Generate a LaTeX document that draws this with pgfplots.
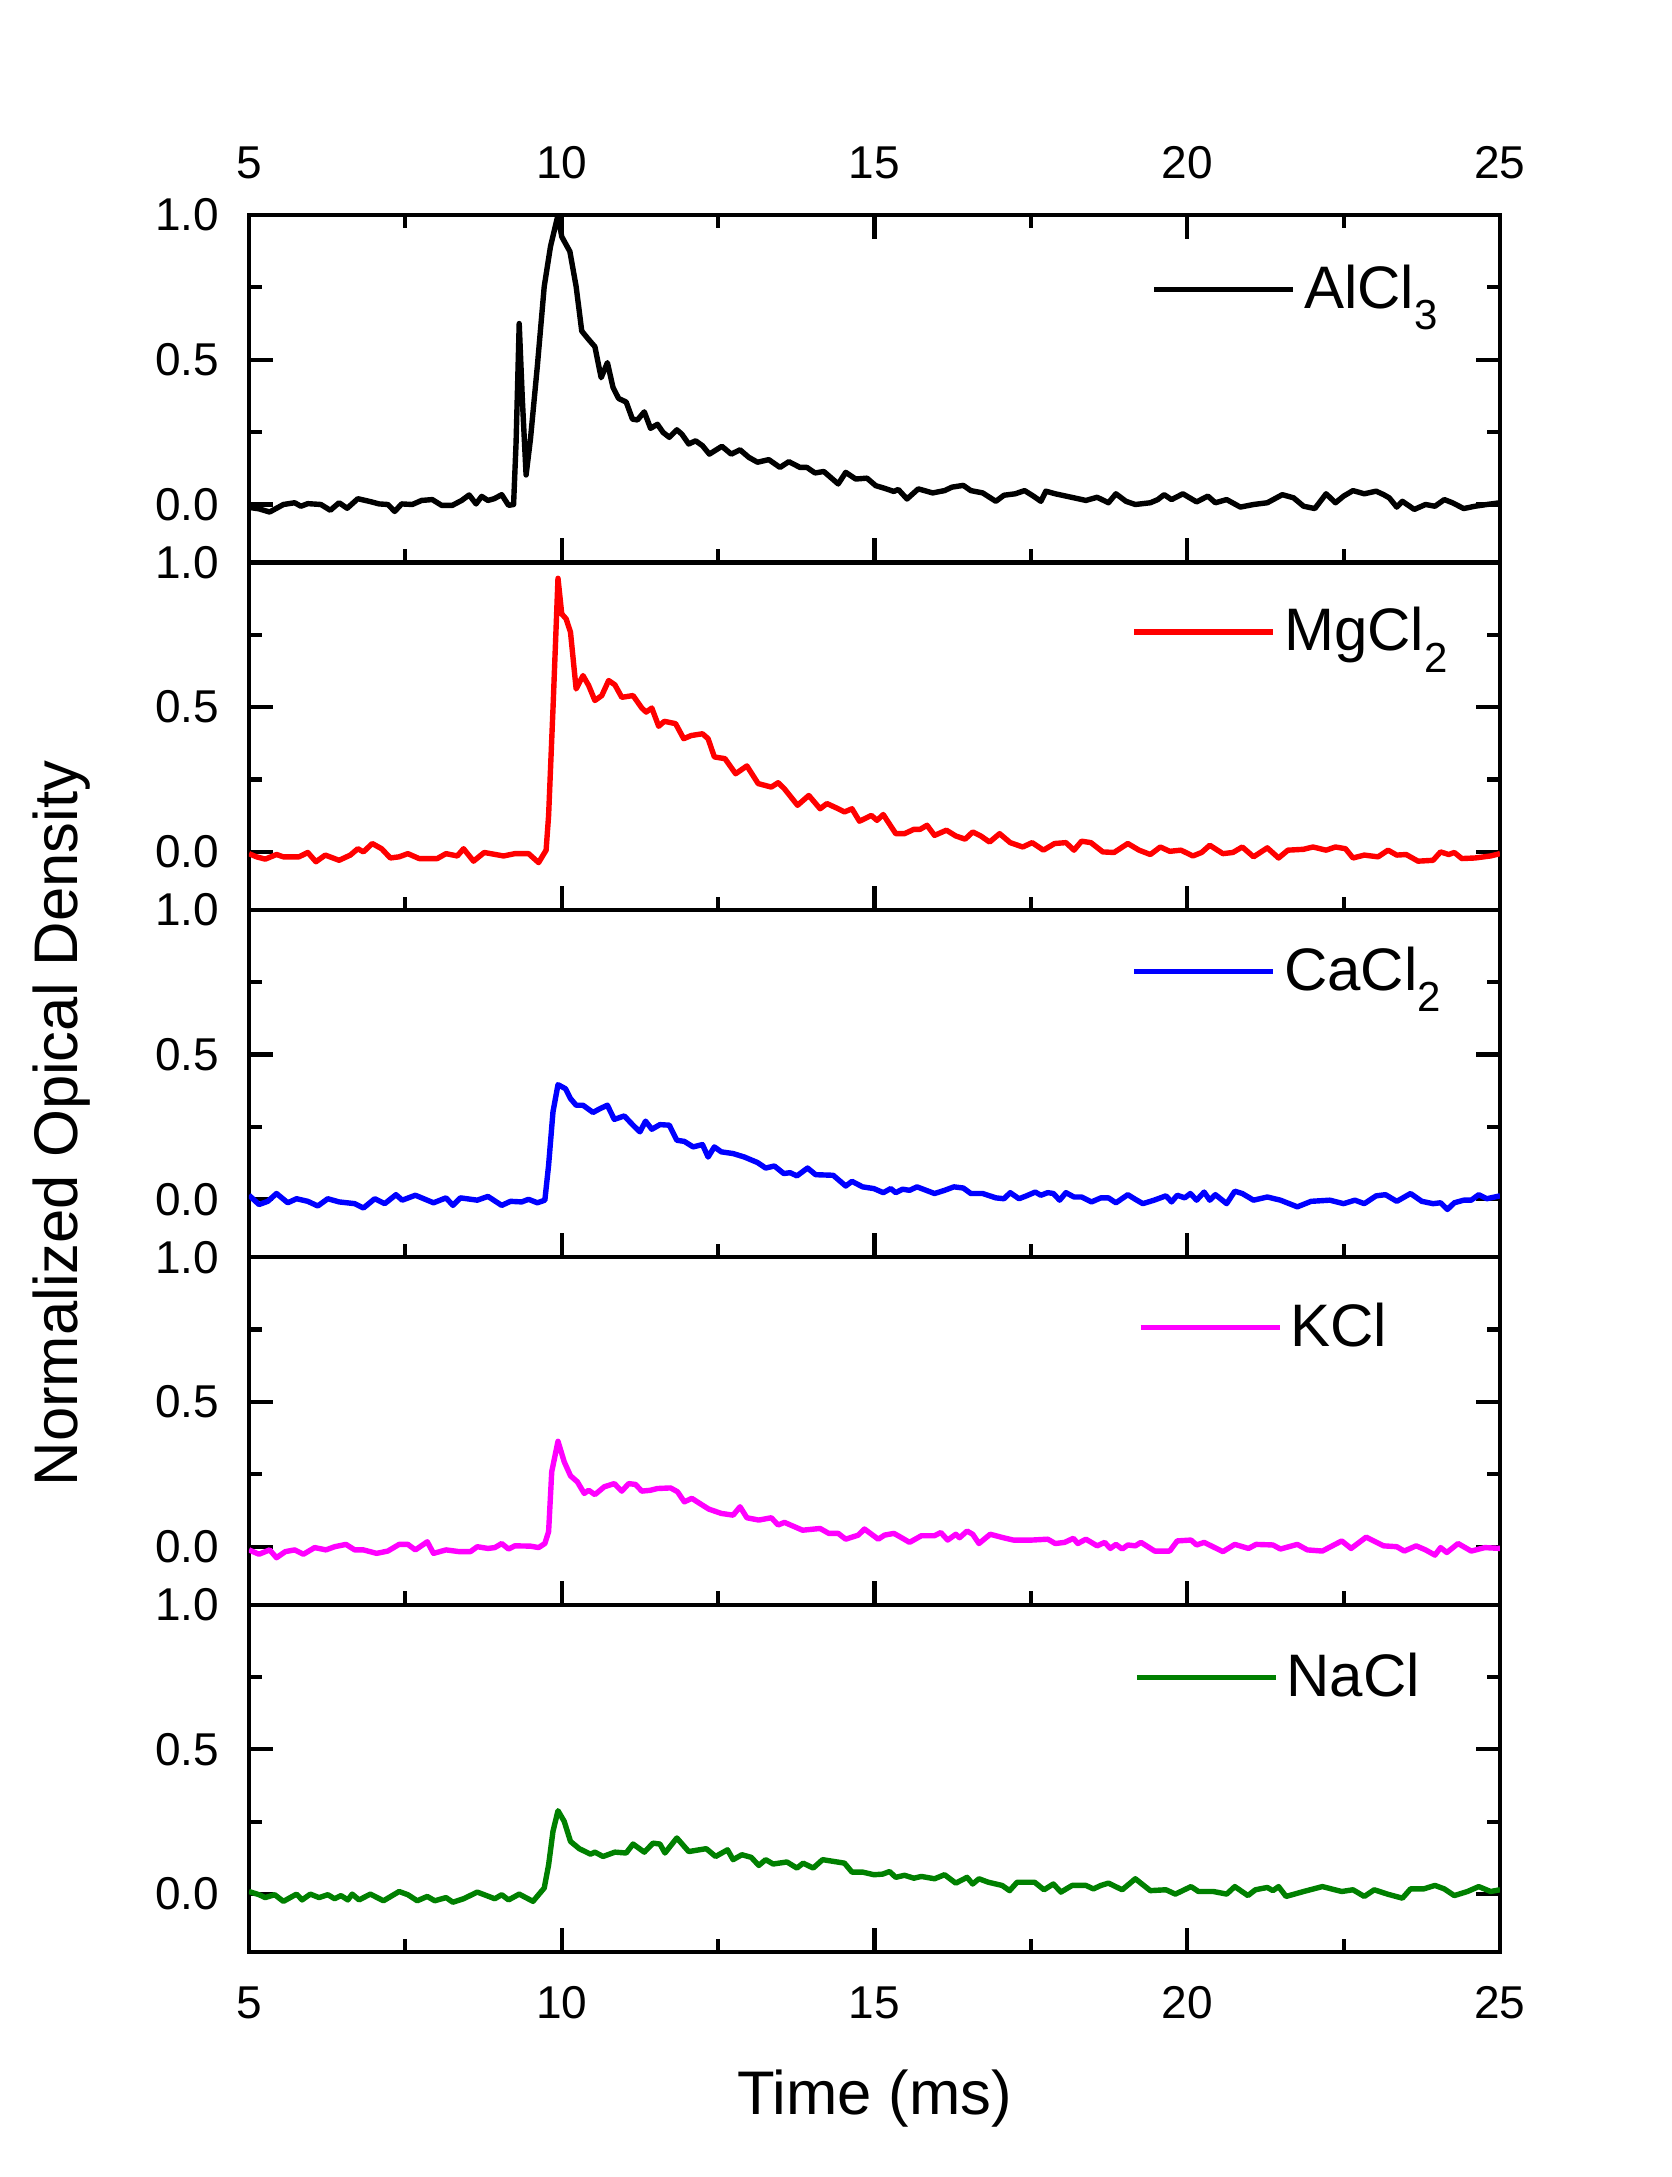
\documentclass[border=0pt]{standalone}
\usepackage{fontspec}
\setmainfont{Liberation Sans}
\usepackage{pgfplots}
\pgfplotsset{compat=1.18}
\usepgfplotslibrary{groupplots}

\definecolor{ngreen}{RGB}{0,128,0}
\definecolor{nred}{RGB}{255,0,0}
\definecolor{nblue}{RGB}{0,0,255}
\definecolor{nmagenta}{RGB}{255,0,255}
\newcommand{\sub}[1]{\raisebox{-5.4pt}{\fontsize{10.5}{12}\selectfont #1}}

\begin{document}
\begin{tikzpicture}
\begin{groupplot}[
  group style={group size=1 by 5, vertical sep=0pt},
  scale only axis, width=312.75pt, height=86.85pt,
  xmin=5, xmax=25, ymin=-0.2, ymax=1.0,
  xtick={5,10,15,20,25}, minor x tick num=1,
  ytick={0,0.5,1}, yticklabels={0.0,0.5,1.0}, minor ytick={0.25,0.75},
  tick align=inside, ytick pos=both, yticklabel pos=left,
  major tick length=6pt, minor tick length=3.3pt,
  axis line style={line width=1.05pt},
  every tick/.style={black, line width=1.05pt},
  yticklabel style={font=\fontsize{11.5}{13}\selectfont, anchor=east, inner sep=0pt, xshift=-7.25pt},
  xticklabel style={font=\fontsize{11.5}{13}\selectfont, inner sep=0pt},
  legend style={draw=none, fill=none, anchor=west, inner sep=0pt,
    font=\fontsize{15}{18}\selectfont},
  legend image code/.code={\draw[#1] (0pt,0pt) -- (34.75pt,0pt);},
  every axis plot/.append style={line width=1.35pt, line join=round},
]

% AlCl3
\nextgroupplot[xtick pos=both, xticklabel pos=top, xticklabels={5,10,15,20,25},
  xticklabel style={anchor=base, yshift=9.1pt},
  legend style={at={(rel axis cs:0.721,0.786)}}]
\addplot[black] coordinates {
(5.0,-0.01)(5.16,-0.015)(5.33,-0.026)(5.55,0)(5.73,0.006)(5.83,-0.006)(5.94,0.003)(6.15,0)(6.3,-0.02)(6.44,0.006)(6.57,-0.013)(6.74,0.02)(6.94,0.01)(7.08,0.002)(7.22,0)(7.33,-0.024)(7.44,0.002)(7.61,0)(7.76,0.014)(7.93,0.017)(8.08,-0.003)(8.25,-0.003)(8.4,0.014)(8.52,0.033)(8.63,0.002)(8.72,0.028)(8.82,0.014)(8.92,0.02)(9.04,0.034)(9.15,-0.003)(9.23,0)(9.27,0.214)(9.32,0.625)(9.37,0.364)(9.43,0.102)(9.5,0.226)(9.61,0.478)(9.72,0.753)(9.82,0.891)(9.94,1.0)(10.0,0.925)(10.13,0.874)(10.23,0.753)(10.32,0.599)(10.43,0.570)(10.53,0.545)(10.63,0.438)(10.73,0.49)(10.82,0.404)(10.91,0.366)(11.03,0.354)(11.13,0.295)(11.21,0.292)(11.32,0.32)(11.42,0.263)(11.53,0.277)(11.62,0.249)(11.72,0.232)(11.84,0.258)(11.92,0.243)(12.03,0.209)(12.14,0.220)(12.25,0.203)(12.36,0.174)(12.56,0.201)(12.71,0.174)(12.85,0.189)(12.99,0.163)(13.13,0.146)(13.31,0.155)(13.49,0.128)(13.63,0.148)(13.81,0.128)(13.92,0.128)(14.05,0.109)(14.19,0.114)(14.42,0.071)(14.54,0.111)(14.70,0.088)(14.88,0.091)(15.02,0.065)(15.16,0.056)(15.31,0.045)(15.38,0.052)(15.52,0.019)(15.70,0.054)
(15.93,0.04)(16.12,0.048)(16.24,0.06)(16.42,0.066)(16.54,0.048)(16.73,0.04)(16.94,0.011)(17.07,0.032)(17.25,0.037)(17.4,0.048)(17.54,0.029)(17.66,0.011)(17.74,0.046)(17.89,0.037)(18.19,0.023)(18.38,0.014)(18.56,0.025)(18.74,0.006)(18.86,0.037)(19.02,0.011)(19.17,0)(19.41,0.006)(19.53,0.017)(19.63,0.034)(19.75,0.017)(19.93,0.037)(20.15,0.009)(20.33,0.029)(20.45,0.006)(20.63,0.017)(20.85,-0.009)(21.06,0)(21.28,0.006)(21.52,0.034)(21.7,0.023)(21.86,-0.006)(22.04,-0.014)(22.22,0.037)(22.37,0.006)(22.5,0.029)(22.65,0.048)(22.83,0.037)(23.02,0.046)(23.14,0.034)(23.23,0.023)(23.35,-0.009)(23.44,0.011)(23.63,-0.017)(23.81,0)(23.96,-0.006)(24.11,0.017)(24.24,0.006)(24.42,-0.014)(24.6,-0.006)(24.79,0)(25.0,0.006)
};
\addlegendentry{AlCl\sub{3}}

% MgCl2
\nextgroupplot[xtick pos=bottom, xticklabels={},
  legend style={at={(rel axis cs:0.705,0.80)}}]
\addplot[nred] coordinates {
(5.0,-0.006)(5.12,-0.017)(5.26,-0.025)(5.44,-0.009)(5.55,-0.017)(5.8,-0.017)(5.94,-0.002)(6.07,-0.034)(6.22,-0.011)(6.44,-0.029)(6.62,-0.011)(6.74,0.011)(6.83,0)(6.97,0.029)(7.12,0.011)(7.26,-0.021)(7.4,-0.017)(7.54,-0.006)(7.72,-0.023)(8.01,-0.023)(8.15,-0.006)(8.33,-0.014)(8.43,0.011)(8.59,-0.032)(8.76,-0.002)(9.07,-0.014)(9.25,-0.006)(9.47,-0.006)(9.63,-0.037)(9.75,0.006)(9.79,0.126)(9.86,0.494)(9.94,0.945)(10.0,0.822)(10.07,0.805)(10.14,0.759)(10.23,0.563)(10.34,0.609)(10.43,0.575)(10.53,0.523)(10.64,0.54)(10.75,0.592)(10.85,0.577)(10.96,0.534)(11.14,0.54)(11.28,0.497)(11.35,0.483)(11.44,0.497)(11.55,0.434)(11.64,0.451)(11.82,0.443)(11.95,0.391)(12.07,0.402)(12.25,0.408)(12.34,0.391)(12.44,0.328)(12.61,0.322)(12.78,0.270)(12.96,0.297)(13.14,0.236)(13.35,0.224)(13.46,0.239)(13.56,0.218)(13.77,0.161)(13.95,0.195)(14.13,0.149)(14.24,0.167)(14.42,0.149)(14.52,0.138)(14.64,0.149)(14.76,0.106)(14.95,0.126)(15.04,0.109)(15.14,0.129)(15.34,0.063)(15.48,0.063)(15.63,0.078)(15.73,0.078)
(15.84,0.092)(15.96,0.057)(16.15,0.075)(16.3,0.055)(16.45,0.044)(16.57,0.069)(16.7,0.055)(16.84,0.034)(17.0,0.063)(17.17,0.032)(17.37,0.017)(17.52,0.032)(17.7,0.006)(17.88,0.029)(18.06,0.032)(18.19,0.006)(18.31,0.037)(18.46,0.032)(18.65,0)(18.83,-0.002)(19.05,0.029)(19.23,0.006)(19.41,-0.009)(19.57,0.017)(19.72,0.002)(19.9,0.006)(20.09,-0.014)(20.23,-0.002)(20.36,0.023)(20.57,-0.006)(20.73,-0.002)(20.88,0.017)(21.06,-0.017)(21.28,0.014)(21.46,-0.021)(21.61,0.006)(21.86,0.009)(22.01,0.017)(22.22,0.006)(22.37,0.017)(22.53,0.011)(22.65,-0.021)(22.83,-0.011)(23.05,-0.017)(23.21,0.006)(23.35,-0.011)(23.5,-0.009)(23.69,-0.032)(23.93,-0.029)(24.05,0)(24.18,-0.009)(24.27,-0.002)(24.39,-0.023)(24.6,-0.021)(24.85,-0.014)(25.0,-0.006)
};
\addlegendentry{MgCl\sub{2}}

% CaCl2
\nextgroupplot[xtick pos=bottom, xticklabels={},
  legend style={at={(rel axis cs:0.705,0.822)}}]
\addplot[nblue] coordinates {
(5.0,0.014)(5.16,-0.018)(5.3,-0.007)(5.44,0.02)(5.62,-0.012)(5.76,0.002)(5.94,-0.007)(6.1,-0.023)(6.26,0.002)(6.44,-0.009)(6.69,-0.015)(6.83,-0.03)(7.01,0.002)(7.17,-0.015)(7.35,0.016)(7.45,-0.003)(7.66,0.014)(7.95,-0.012)(8.15,0.005)(8.26,-0.021)(8.38,0.005)(8.65,-0.003)(8.82,0.01)(9.04,-0.021)(9.18,-0.007)(9.36,-0.009)(9.47,0)(9.61,-0.012)(9.73,-0.003)(9.79,0.118)(9.86,0.302)(9.94,0.396)(10.06,0.382)(10.14,0.348)(10.23,0.325)(10.34,0.325)(10.5,0.3)(10.61,0.313)(10.73,0.325)(10.84,0.276)(11.0,0.288)(11.14,0.256)(11.25,0.233)(11.34,0.27)(11.44,0.242)(11.57,0.258)(11.72,0.256)(11.84,0.204)(11.96,0.200)(12.1,0.181)(12.25,0.189)(12.34,0.146)(12.44,0.181)(12.55,0.164)(12.74,0.158)(12.92,0.146)(13.13,0.127)(13.26,0.108)(13.4,0.115)(13.55,0.089)(13.65,0.092)(13.76,0.081)(13.93,0.108)(14.06,0.085)(14.34,0.083)(14.54,0.046)(14.64,0.062)(14.81,0.043)(14.99,0.037)(15.14,0.023)(15.26,0.037)(15.34,0.023)(15.45,0.035)(15.56,0.031)(15.68,0.043)
(15.96,0.020)(16.12,0.031)(16.27,0.043)(16.42,0.039)(16.54,0.020)(16.73,0.020)(16.94,0.005)(17.07,0.002)(17.17,0.023)(17.31,0.002)(17.43,0.012)(17.57,0.025)(17.66,0.014)(17.77,0.023)(17.86,0.020)(17.96,-0.003)(18.06,0.023)(18.19,0.008)(18.31,0.008)(18.47,-0.009)(18.62,0.005)(18.74,0.005)(18.86,-0.012)(19.05,0.016)(19.17,0)(19.29,-0.015)(19.47,-0.003)(19.66,0.012)(19.75,-0.009)(19.84,0.014)(19.96,0.005)(20.05,0.020)(20.15,-0.003)(20.27,0.025)(20.36,-0.003)(20.45,0.016)(20.63,-0.015)(20.76,0.028)(20.88,0.020)(21.06,-0.003)(21.28,0.008)(21.49,-0.003)(21.76,-0.026)(21.98,-0.007)(22.28,-0.003)(22.5,-0.015)(22.68,-0.003)(22.83,-0.015)(23.02,0.012)(23.17,0.016)(23.35,-0.007)(23.57,0.020)(23.75,-0.007)(23.93,-0.015)(24.05,-0.012)(24.16,-0.035)(24.27,-0.012)(24.42,-0.003)(24.54,-0.003)(24.66,0.016)(24.79,0.002)(25.0,0.012)
};
\addlegendentry{CaCl\sub{2}}

% KCl
\nextgroupplot[xtick pos=bottom, xticklabels={},
  legend style={at={(rel axis cs:0.710,0.797)}}]
\addplot[nmagenta] coordinates {
(5.0,-0.011)(5.16,-0.026)(5.33,-0.011)(5.44,-0.038)(5.58,-0.017)(5.73,-0.011)(5.87,-0.026)(6.05,-0.003)(6.23,-0.011)(6.37,0)(6.55,0.008)(6.69,-0.011)(6.83,-0.011)(7.04,-0.023)(7.22,-0.015)(7.4,0.008)(7.54,0.008)(7.66,-0.011)(7.85,0.017)(7.95,-0.023)(8.15,-0.011)(8.36,-0.017)(8.54,-0.017)(8.65,0)(8.82,-0.006)(8.93,-0.003)(9.04,0.011)(9.15,-0.008)(9.25,0.003)(9.5,0.002)(9.63,-0.003)(9.73,0.011)(9.79,0.052)(9.84,0.259)(9.94,0.364)(10.04,0.293)(10.14,0.245)(10.25,0.224)(10.36,0.184)(10.43,0.195)(10.53,0.180)(10.68,0.207)(10.84,0.218)(10.96,0.192)(11.07,0.218)(11.18,0.215)(11.28,0.192)(11.42,0.195)(11.53,0.201)(11.74,0.203)(11.85,0.190)(11.96,0.155)(12.08,0.167)(12.21,0.149)(12.35,0.130)(12.55,0.115)(12.74,0.109)(12.85,0.138)(12.96,0.100)(13.15,0.092)(13.35,0.100)(13.46,0.075)(13.56,0.084)(13.85,0.057)(14.13,0.063)(14.27,0.046)(14.42,0.046)(14.54,0.026)(14.74,0.040)(14.84,0.061)(15.06,0.026)(15.16,0.040)(15.31,0.046)(15.41,0.034)(15.56,0.015)
(15.75,0.038)(15.96,0.038)(16.06,0.049)(16.17,0.023)(16.3,0.043)(16.36,0.031)(16.48,0.054)(16.57,0.043)(16.67,0.011)(16.85,0.043)(17.06,0.031)(17.22,0.023)(17.52,0.023)(17.77,0.026)(17.89,0.011)(18.04,0.015)(18.18,0.029)(18.25,0.011)(18.38,0.026)(18.56,0.003)(18.68,0.015)(18.77,-0.006)(18.86,0.008)(18.96,-0.008)(19.05,0.006)(19.17,0.003)(19.26,0.015)(19.48,-0.015)(19.72,-0.015)(19.84,0.020)(20.06,0.023)(20.15,0.006)(20.27,0.015)(20.57,-0.017)(20.76,0.008)(20.98,-0.006)(21.1,0.008)(21.37,0.006)(21.49,-0.008)(21.76,0.008)(21.92,-0.011)(22.16,-0.015)(22.47,0.020)(22.62,-0.006)(22.86,0.033)(23.14,0.003)(23.35,0)(23.47,-0.015)(23.66,0.003)(23.81,-0.011)(23.96,-0.029)(24.05,-0.003)(24.15,-0.02)(24.33,0.011)(24.54,-0.015)(24.76,-0.003)(25.0,-0.006)
};
\addlegendentry{KCl}

% NaCl
\nextgroupplot[xtick pos=bottom, xticklabels={5,10,15,20,25},
  xticklabel style={anchor=base, yshift=-16.6pt},
  legend style={at={(rel axis cs:0.707,0.79)}}]
\addplot[ngreen] coordinates {
(5.0,0.009)(5.16,-0.002)(5.26,-0.012)(5.41,-0.002)(5.55,-0.025)(5.76,0)(5.85,-0.020)(5.98,0)(6.12,-0.012)(6.26,-0.002)(6.37,-0.016)(6.47,-0.005)(6.58,-0.020)(6.65,0)(6.76,-0.020)(6.94,0)(7.15,-0.023)(7.4,0.009)(7.54,-0.002)(7.69,-0.023)(7.85,-0.008)(7.97,-0.023)(8.15,-0.012)(8.26,-0.028)(8.43,-0.016)(8.65,0.007)(8.93,-0.016)(9.04,-0.002)(9.15,-0.020)(9.32,0)(9.54,-0.025)(9.72,0.021)(9.79,0.101)(9.86,0.217)(9.94,0.288)(10.04,0.251)(10.14,0.182)(10.28,0.157)(10.46,0.138)(10.53,0.145)(10.66,0.130)(10.85,0.145)(11.03,0.142)(11.14,0.173)(11.32,0.145)(11.46,0.176)(11.57,0.173)(11.65,0.142)(11.84,0.194)(12.03,0.147)(12.31,0.157)(12.46,0.130)(12.65,0.153)(12.74,0.119)(12.88,0.136)(13.03,0.127)(13.15,0.099)(13.26,0.119)(13.38,0.104)(13.6,0.111)(13.76,0.090)(13.86,0.107)(14.02,0.090)(14.17,0.119)(14.52,0.107)(14.64,0.076)(14.81,0.076)(14.99,0.067)(15.13,0.069)(15.24,0.078)(15.34,0.058)(15.48,0.065)(15.63,0.055)
(15.75,0.061)(15.96,0.053)(16.12,0.067)(16.3,0.038)(16.48,0.058)(16.57,0.035)(16.67,0.053)(16.82,0.041)(17.04,0.030)(17.16,0.012)(17.28,0.041)(17.56,0.041)(17.71,0.015)(17.86,0.035)(17.98,0.007)(18.16,0.030)(18.38,0.030)(18.5,0.018)(18.62,0.030)(18.74,0.038)(18.96,0.015)(19.17,0.053)(19.41,0.012)(19.66,0.015)(19.81,0)(20.06,0.026)(20.18,0.009)(20.42,0.009)(20.63,0)(20.76,0.026)(20.97,-0.005)(21.09,0.015)(21.28,0.023)(21.37,0.012)(21.46,0.026)(21.58,-0.008)(21.86,0.009)(22.16,0.026)(22.47,0.009)(22.65,0.015)(22.83,-0.008)(22.99,0.015)(23.2,0)(23.44,-0.014)(23.57,0.018)(23.78,0.018)(23.96,0.030)(24.11,0.018)(24.27,-0.005)(24.48,0.009)(24.66,0.026)(24.85,0.009)(25.0,0.015)
};
\addlegendentry{NaCl}
\end{groupplot}

\node[rotate=90, font=\fontsize{15.4}{18}\selectfont] at ([xshift=-46.75pt, yshift=-10pt]group c1r3.west) {Normalized Opical Density};
\node[anchor=base, font=\fontsize{15.4}{18}\selectfont] at ([yshift=-40.5pt]group c1r5.south) {Time (ms)};
\path ([shift={(-62.25pt,53.75pt)}]group c1r1.north west) rectangle ([shift={(43pt,-56.25pt)}]group c1r5.south east);
\end{tikzpicture}
\end{document}
